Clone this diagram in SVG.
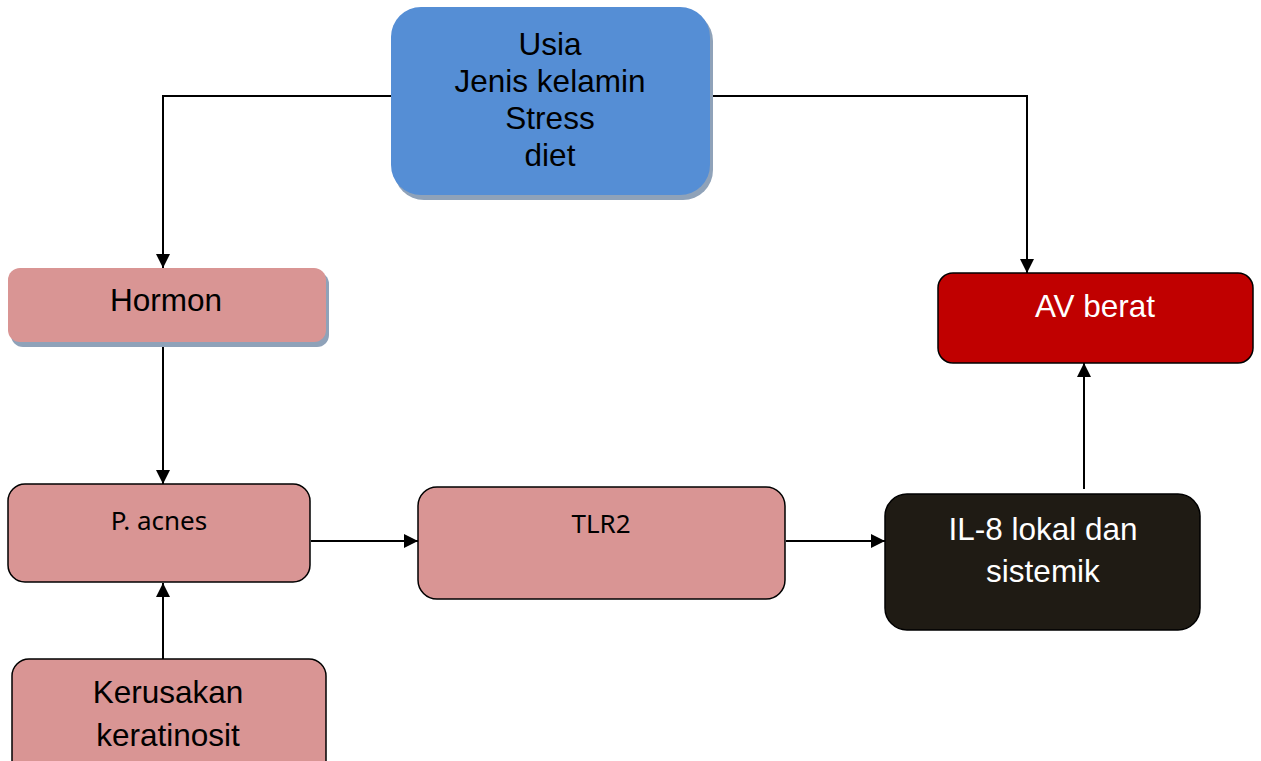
<svg xmlns="http://www.w3.org/2000/svg" width="1261" height="761" viewBox="0 0 1261 761">
<style>
.arial{font-family:"Liberation Sans",Arial,sans-serif;font-size:31.5px;text-anchor:middle;}
.cal{font-family:"Noto Sans","Open Sans",sans-serif;font-size:26px;text-anchor:middle;fill:#000;}
.pink{fill:#D99594;}
.box{stroke:#000;stroke-width:1.5;}
.conn{fill:none;stroke:#000;stroke-width:2;}
</style>
<defs>
<marker id="arr" markerUnits="userSpaceOnUse" markerWidth="14" markerHeight="14" refX="14" refY="7" orient="auto">
<path d="M0,0 L14,7 L0,14 Z" fill="#000"/>
</marker>
</defs>
<rect width="1261" height="761" fill="#fff"/>
<g id="connectors">
<polyline class="conn" points="391,96 163,96 163,268" marker-end="url(#arr)"/>
<polyline class="conn" points="710,96 1027,96 1027,273" marker-end="url(#arr)"/>
<line class="conn" x1="163" y1="345" x2="163" y2="484" marker-end="url(#arr)"/>
<line class="conn" x1="163" y1="659" x2="163" y2="583" marker-end="url(#arr)"/>
<line class="conn" x1="311" y1="541" x2="418" y2="541" marker-end="url(#arr)"/>
<line class="conn" x1="786" y1="541" x2="885" y2="541" marker-end="url(#arr)"/>
<line class="conn" x1="1084" y1="489" x2="1084" y2="363" marker-end="url(#arr)"/>
</g>
<g id="factors">
<rect x="394" y="11" width="319" height="189" rx="30" fill="#8FA2B9"/>
<rect x="391" y="7" width="319" height="188" rx="30" fill="#558ED5"/>
<text class="arial" x="550" y="55">Usia</text>
<text class="arial" x="550" y="92">Jenis kelamin</text>
<text class="arial" x="550" y="129">Stress</text>
<text class="arial" x="550" y="166">diet</text>
</g>
<g id="hormon">
<rect x="11" y="272" width="318" height="75" rx="12" fill="#8FA2B9"/>
<rect class="pink" x="8" y="268" width="318" height="74" rx="12"/>
<text class="arial" x="166" y="311">Hormon</text>
</g>
<g id="pacnes">
<rect class="pink box" x="8" y="484" width="302" height="98" rx="17"/>
<text class="cal" x="159" y="530">P. acnes</text>
</g>
<g id="kerusakan">
<rect class="pink box" x="12" y="659" width="314" height="130" rx="17"/>
<text class="arial" x="168" y="703">Kerusakan</text>
<text class="arial" x="168" y="746">keratinosit</text>
</g>
<g id="tlr2">
<rect class="pink box" x="418" y="487" width="367" height="112" rx="19"/>
<text class="cal" x="601" y="533">TLR2</text>
</g>
<g id="il8">
<rect class="box" x="885" y="494" width="315" height="136" rx="22" fill="#1F1B14"/>
<text class="arial" x="1043" y="540" fill="#fff">IL-8 lokal dan</text>
<text class="arial" x="1043" y="582" fill="#fff">sistemik</text>
</g>
<g id="avberat">
<rect class="box" x="938" y="273" width="315" height="90" rx="15" fill="#C00000"/>
<text class="arial" x="1095" y="317" fill="#fff">AV berat</text>
</g>
</svg>
